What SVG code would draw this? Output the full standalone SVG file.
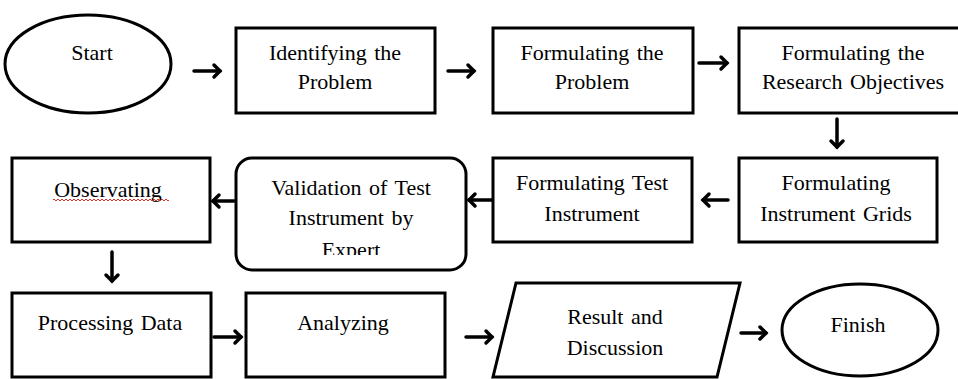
<svg xmlns="http://www.w3.org/2000/svg" width="958" height="379" viewBox="0 0 958 379">
<style>
.n{fill:#fff;stroke:#000;stroke-width:3}
.t{font-family:'Liberation Serif','Times New Roman',serif;font-size:22px;fill:#000;text-anchor:middle;word-spacing:2px}
.c line,.c polyline{fill:none;stroke:#000;stroke-width:3.5;stroke-linecap:round;stroke-linejoin:miter}
</style>
<defs>
<clipPath id="vclip"><rect x="236" y="158" width="230" height="97"/></clipPath>
</defs>
<rect width="958" height="379" fill="#fff"/>
<g id="start">
<ellipse class="n" cx="88" cy="64" rx="83" ry="49"/>
<text class="t" x="92" y="60">Start</text>
</g>
<g id="identifying">
<rect class="n" x="236" y="28" width="199" height="85"/>
<text class="t" x="335" y="60">Identifying the</text>
<text class="t" x="335" y="89">Problem</text>
</g>
<g id="formulating-problem">
<rect class="n" x="493" y="28" width="200" height="85"/>
<text class="t" x="592" y="60">Formulating the</text>
<text class="t" x="592" y="89">Problem</text>
</g>
<g id="objectives">
<rect class="n" x="739" y="28" width="225" height="85"/>
<text class="t" x="853" y="60">Formulating the</text>
<text class="t" x="853" y="89">Research Objectives</text>
</g>
<g id="grids">
<rect class="n" x="739" y="158" width="198" height="84"/>
<text class="t" x="836" y="190">Formulating</text>
<text class="t" x="836" y="221">Instrument Grids</text>
</g>
<g id="test-instrument">
<rect class="n" x="493" y="158" width="199" height="84"/>
<text class="t" x="592" y="190">Formulating Test</text>
<text class="t" x="592" y="221">Instrument</text>
</g>
<g id="validation">
<rect class="n" x="236" y="158" width="230" height="112" rx="16" ry="16"/>
<text class="t" x="351" y="195">Validation of Test</text>
<text class="t" x="351" y="225">Instrument by</text>
<text class="t" x="351" y="257" clip-path="url(#vclip)">Expert</text>
</g>
<g id="observating">
<rect class="n" x="12" y="158" width="198" height="84"/>
<text class="t" x="108" y="197">Observating</text>
<path d="M53 200 q1 -2 2 0 t2 0 t2 0 t2 0 t2 0 t2 0 t2 0 t2 0 t2 0 t2 0 t2 0 t2 0 t2 0 t2 0 t2 0 t2 0 t2 0 t2 0 t2 0 t2 0 t2 0 t2 0 t2 0 t2 0 t2 0 t2 0 t2 0 t2 0 t2 0 t2 0 t2 0 t2 0 t2 0 t2 0 t2 0 t2 0 t2 0 t2 0 t2 0 t2 0 t2 0 t2 0 t2 0 t2 0 t2 0 t2 0 t2 0 t2 0 t2 0 t2 0 t2 0 t2 0 t2 0 t2 0 t2 0 t2 0 t2 0 t2 0" fill="none" stroke="#e0302a" stroke-width="1"/>
</g>
<g id="processing">
<rect class="n" x="12" y="293" width="199" height="84"/>
<text class="t" x="110" y="330">Processing Data</text>
</g>
<g id="analyzing">
<rect class="n" x="246" y="293" width="199" height="84"/>
<text class="t" x="343" y="330">Analyzing</text>
</g>
<g id="result">
<polygon class="n" points="516,283 740,283 717,377 493,377"/>
<text class="t" x="615" y="324">Result and</text>
<text class="t" x="615" y="355">Discussion</text>
</g>
<g id="finish">
<ellipse class="n" cx="860" cy="330" rx="78" ry="46"/>
<text class="t" x="858" y="332">Finish</text>
</g>
<g id="connectors" class="c">
<line x1="194" y1="71" x2="220" y2="71"/><polyline points="214,65 220,71 214,77"/>
<line x1="448" y1="71" x2="474" y2="71"/><polyline points="468,65 474,71 468,77"/>
<line x1="699" y1="63" x2="727" y2="63"/><polyline points="721,57 727,63 721,69"/>
<line x1="837" y1="119" x2="837" y2="147"/><polyline points="831,141 837,147 843,141"/>
<line x1="728" y1="200" x2="703" y2="200"/><polyline points="709,194 703,200 709,206"/>
<line x1="492" y1="200" x2="469" y2="200"/><polyline points="475,194 469,200 475,206"/>
<line x1="234" y1="201" x2="213" y2="201"/><polyline points="219,195 213,201 219,207"/>
<line x1="112" y1="252" x2="112" y2="281"/><polyline points="106,275 112,281 118,275"/>
<line x1="214" y1="337" x2="241" y2="337"/><polyline points="235,331 241,337 235,343"/>
<line x1="466" y1="337" x2="492" y2="337"/><polyline points="486,331 492,337 486,343"/>
<line x1="741" y1="333" x2="766" y2="333"/><polyline points="760,327 766,333 760,339"/>
</g>
</svg>
